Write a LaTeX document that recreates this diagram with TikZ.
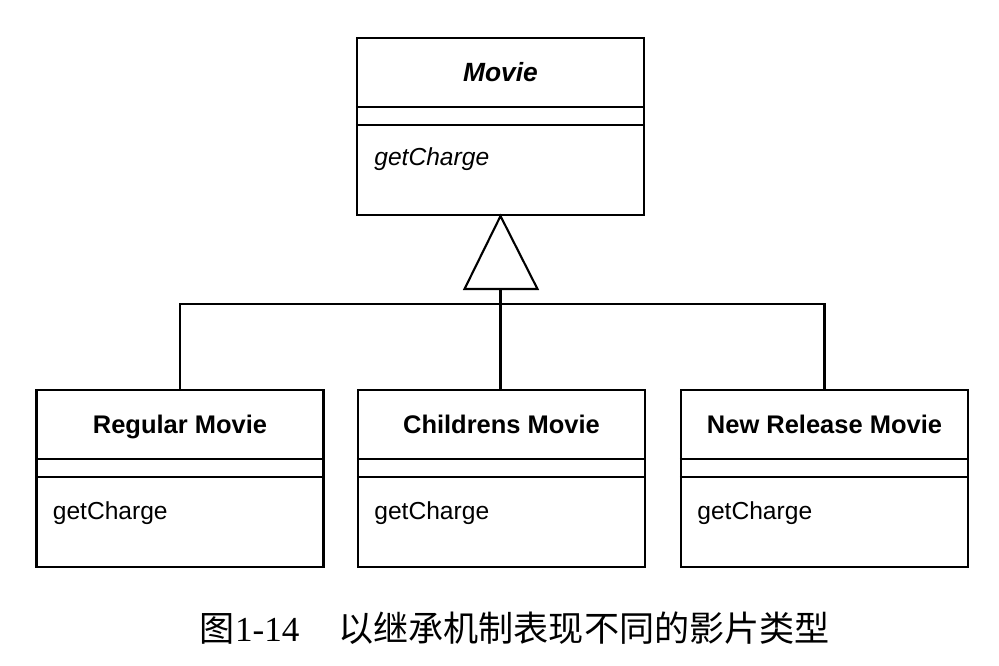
\documentclass[tikz,border=0pt]{standalone}
\usepackage{fontspec}
\setmainfont{Liberation Sans}
\newfontfamily\cjk{Noto Sans CJK SC}
\newfontfamily\capnum{Liberation Serif}
\usetikzlibrary{calc, positioning}
\tikzset{
	umlline/.style = {line width=1.2pt},
	classbox/.style = {draw, umlline, minimum width=5.74cm, minimum height=3.54cm, inner sep=0pt},
	classname/.style = {font=\bfseries\fontsize{14.5}{16}\selectfont, inner sep=0pt, anchor=base},
	opname/.style = {font=\fontsize{14}{16}\selectfont, anchor=base west, inner sep=0pt},
}

\begin{document}
\begin{tikzpicture}[x=0.02cm, y=-0.02cm]
			\useasboundingbox (0,0) rectangle (999,665);
			\node[classbox] (movie) at (500.5,126.5) {};
			\node[classbox] (regular) at (180,478.5) {};
			\node[classbox] (childrens) at (501.5,478.5) {};
			\node[classbox] (newrelease) at (824.5,478.5) {};
			\node[classname, font=\bfseries\itshape\fontsize{15}{17}\selectfont] (movie-name) at ($(movie.north)+(0,45)$) {Movie};
			\node[opname, font=\itshape\fontsize{14}{16}\selectfont] (movie-op) at ($(movie.north west)+(18,129)$) {getCharge};
			\foreach \b/\t in {regular/Regular Movie, childrens/Childrens Movie, newrelease/New Release Movie} {
				\node[classname] (\b-name) at ($(\b.north)+(0,45)$) {\t};
				\node[opname] (\b-op) at ($(\b.north west)+(17,131)$) {getCharge};
			}
			\foreach \b in {movie, regular, childrens, newrelease} {
				\draw[umlline] ($(\b.north west)+(0,70)$) -- ($(\b.north east)+(0,70)$);
				\draw[umlline] ($(\b.north west)+(0,88)$) -- ($(\b.north east)+(0,88)$);
			}
			\coordinate (base) at ($(movie.south)+(0,73)$);
			\coordinate (bus) at ($(movie.south)+(0,88)$);
			\draw[umlline, line join=miter] (movie.south) -- ($(base)+(37,0)$) -- ($(base)+(-36,0)$) -- cycle;
			\draw[umlline] (base) -- (base |- childrens.north);
			\draw[umlline] (regular.north) |- (bus) -| (newrelease.north);
			\node[font=\fontsize{20}{22}\selectfont] (caption) at (515,628) {{\cjk 图}{\capnum 1-14}\hspace{1.1em}{\cjk 以继承机制表现不同的影片类型}};
		\end{tikzpicture}
\end{document}
